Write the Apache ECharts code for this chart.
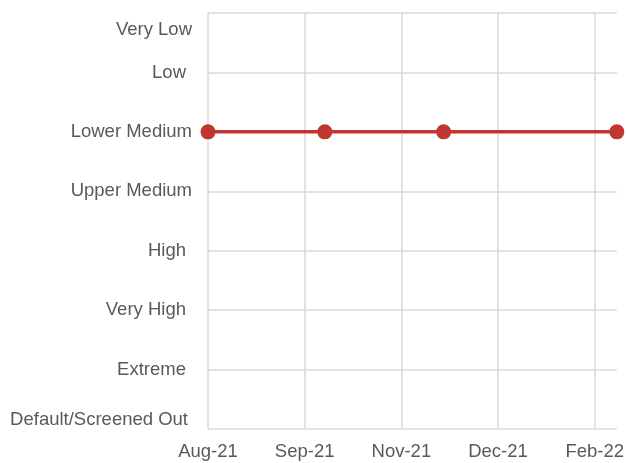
<!DOCTYPE html>
<html>
<head>
<meta charset="utf-8">
<script src="https://cdn.jsdelivr.net/npm/echarts@6/dist/echarts.min.js"></script>
<style>
  html, body { margin: 0; padding: 0; background: #ffffff; }
  #chart { width: 627px; height: 463px; }
</style>
</head>
<body>
<div id="chart"></div>
<script>
// Rating scale, best (top) to worst (bottom)
const riskLevels = ['Very Low', 'Low', 'Lower Medium', 'Upper Medium', 'High', 'Very High', 'Extreme', 'Default/Screened Out'];

// Assessment history
const obsDates = ['2021-08-01', '2021-09-28', '2021-11-26', '2022-02-20'];
const obsLevels = ['Lower Medium', 'Lower Medium', 'Lower Medium', 'Lower Medium'];

// Date axis: start date and spacing of the major ticks (days)
const axisStart = '2021-08-01';
const tickDays = 48;

const monthNames = ['Jan', 'Feb', 'Mar', 'Apr', 'May', 'Jun', 'Jul', 'Aug', 'Sep', 'Oct', 'Nov', 'Dec'];
const DAY = 86400000;
const startMs = Date.parse(axisStart + 'T00:00:00Z');
const dayOffset = d => Math.round((Date.parse(d + 'T00:00:00Z') - startMs) / DAY);
const fmtDay = v => {
  const dt = new Date(startMs + v * DAY);
  return monthNames[dt.getUTCMonth()] + '-' + String(dt.getUTCFullYear()).slice(2);
};

const seriesData = obsDates.map((d, i) => [dayOffset(d), riskLevels.indexOf(obsLevels[i])]);
const lastDay = Math.max.apply(null, seriesData.map(p => p[0]));

const FONT = "'Liberation Sans', Arial, Helvetica, sans-serif";
const FS = 18.5;
const TXT = '#595959';
const GRID = '#d9d9d9';
const RED = '#bf3730';

// labels that sit a little further from the axis
const indented = ['Low', 'High', 'Very High', 'Extreme'];
const richBase = { fontFamily: FONT, fontSize: FS, color: TXT };

const chart = echarts.init(document.getElementById('chart'), null, { renderer: 'canvas' });
chart.setOption({
  animation: false,
  backgroundColor: '#ffffff',
  grid: { left: 208, right: 8, top: 13, bottom: 34, containLabel: false },
  xAxis: {
    type: 'value',
    min: 0,
    max: lastDay,
    interval: tickDays,
    axisLine: { show: false },
    axisTick: { show: false },
    axisLabel: {
      formatter: fmtDay,
      showMaxLabel: false,
      margin: 13,
      color: TXT,
      fontFamily: FONT,
      fontSize: FS
    },
    splitLine: { show: true, showMaxLine: false, lineStyle: { color: GRID, width: 1.5 } }
  },
  yAxis: {
    type: 'value',
    inverse: true,
    min: 0,
    max: riskLevels.length - 1,
    interval: 1,
    axisLine: { show: false },
    axisTick: { show: false },
    axisLabel: {
      margin: 16,
      color: TXT,
      fontFamily: FONT,
      fontSize: FS,
      formatter: v => {
        const name = riskLevels[v];
        if (v === 0) return '{first|' + name + '}';
        if (v === riskLevels.length - 1) return '{last|' + name + '}';
        if (indented.indexOf(name) >= 0) return '{ind|' + name + '}';
        return '{std|' + name + '}';
      },
      rich: {
        std: Object.assign({}, richBase),
        ind: Object.assign({ padding: [0, 6, 0, 0] }, richBase),
        first: Object.assign({ padding: [34, 0, 0, 0] }, richBase),
        last: Object.assign({ padding: [0, 4, 18, 0] }, richBase)
      }
    },
    splitLine: { show: true, lineStyle: { color: GRID, width: 1.5 } }
  },
  series: [{
    type: 'line',
    data: seriesData,
    symbol: 'circle',
    symbolSize: 15,
    clip: false,
    lineStyle: { color: RED, width: 3.5 },
    itemStyle: { color: RED },
    z: 5
  }]
});
</script>
</body>
</html>
